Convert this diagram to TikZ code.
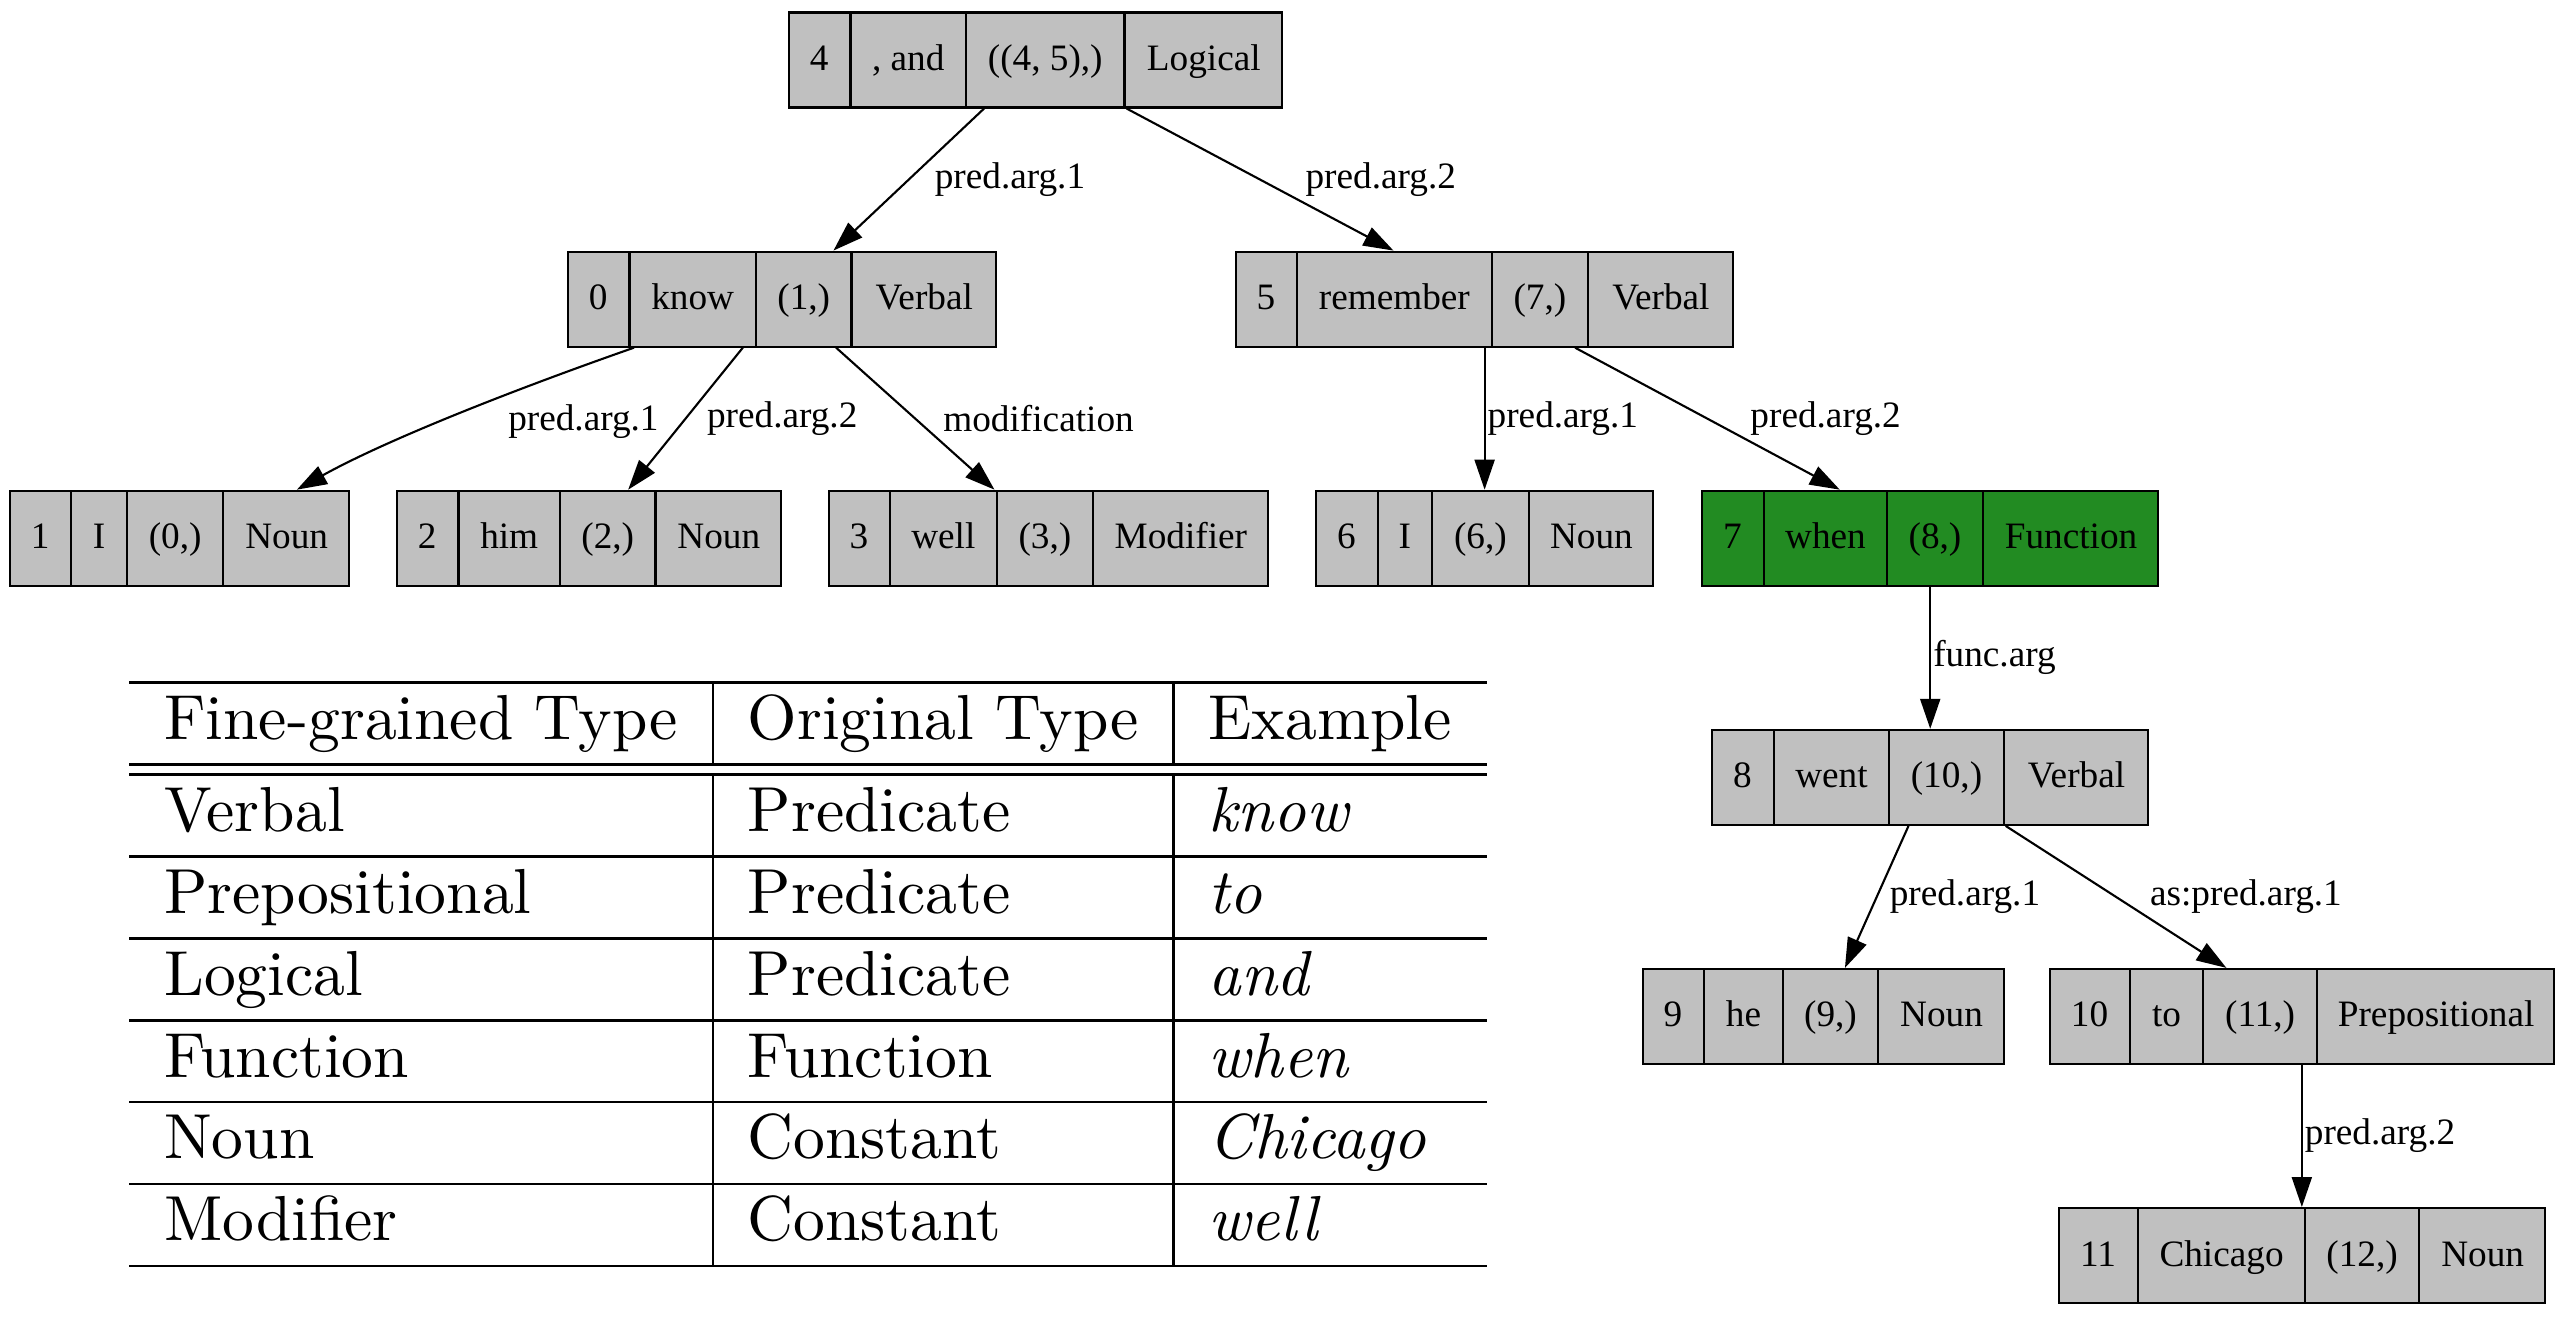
\documentclass[tikz,border=0pt]{standalone}
\usepackage{fontspec}
\newfontfamily\gvfont{Liberation Serif}
\usetikzlibrary{positioning,shapes.multipart,arrows.meta}
\definecolor{bg1}{RGB}{192,192,192}
\definecolor{bg2}{RGB}{34,139,34}
\newcommand{\cell}[2]{\makebox[\dimexpr#1cm-0.45pt\relax]{\rule[-0.37cm]{0pt}{0.95cm}#2}}

\begin{document}
\begin{tikzpicture}[
    font=\gvfont\fontsize{10.6}{12}\selectfont,
    rec/.style={
        rectangle split, rectangle split horizontal,
        rectangle split parts=4,
        draw, fill=bg1, line width=0.6pt,
        inner xsep=0pt, inner ysep=0pt
    },
    fn/.style={rec, fill=bg2},
    l/.style={
        line width=0.6pt,
        -{Triangle[length=0.3cm,width=0.2cm]}
    },
    lb/.style={anchor=west, inner sep=0pt}
]

\useasboundingbox (0,0) rectangle (25.66,-13.18);

\node [rec] (n4) at (10.355,-0.60)
    {\cell{0.62}{4}\nodepart{two}\cell{1.15}{, and}\nodepart{three}\cell{1.58}{((4, 5),)}\nodepart{four}\cell{1.58}{Logical}};
\node [rec,below=1.42cm of n4,xshift=-2.535cm] (n0)
    {\cell{0.62}{0}\nodepart{two}\cell{1.26}{know}\nodepart{three}\cell{0.95}{(1,)}\nodepart{four}\cell{1.45}{Verbal}};
\node [rec,right=2.38cm of n0] (n5)
    {\cell{0.61}{5}\nodepart{two}\cell{1.95}{remember}\nodepart{three}\cell{0.95}{(7,)}\nodepart{four}\cell{1.46}{Verbal}};

\node [rec,below left=1.42cm and 2.17cm of n0] (n1)
    {\cell{0.62}{1}\nodepart{two}\cell{0.55}{I}\nodepart{three}\cell{0.96}{(0,)}\nodepart{four}\cell{1.26}{Noun}};
\node [rec,right=0.46cm of n1] (n2)
    {\cell{0.62}{2}\nodepart{two}\cell{1.01}{him}\nodepart{three}\cell{0.95}{(2,)}\nodepart{four}\cell{1.26}{Noun}};
\node [rec,right=0.46cm of n2] (n3)
    {\cell{0.61}{3}\nodepart{two}\cell{1.07}{well}\nodepart{three}\cell{0.95}{(3,)}\nodepart{four}\cell{1.76}{Modifier}};
\node [rec,below=1.42cm of n5] (n6)
    {\cell{0.62}{6}\nodepart{two}\cell{0.54}{I}\nodepart{three}\cell{0.96}{(6,)}\nodepart{four}\cell{1.25}{Noun}};
\node [fn,right=0.47cm of n6] (n7)
    {\cell{0.62}{7}\nodepart{two}\cell{1.23}{when}\nodepart{three}\cell{0.95}{(8,)}\nodepart{four}\cell{1.76}{Function}};

\node [rec,below=1.42cm of n7] (n8)
    {\cell{0.62}{8}\nodepart{two}\cell{1.15}{went}\nodepart{three}\cell{1.14}{(10,)}\nodepart{four}\cell{1.45}{Verbal}};
\node [rec,below=1.42cm of n8,xshift=-1.07cm] (n9)
    {\cell{0.62}{9}\nodepart{two}\cell{0.78}{he}\nodepart{three}\cell{0.95}{(9,)}\nodepart{four}\cell{1.26}{Noun}};
\node [rec,right=0.44cm of n9] (n10)
    {\cell{0.81}{10}\nodepart{two}\cell{0.72}{to}\nodepart{three}\cell{1.14}{(11,)}\nodepart{four}\cell{2.37}{Prepositional}};
\node [rec,below=1.42cm of n10] (n11)
    {\cell{0.80}{11}\nodepart{two}\cell{1.66}{Chicago}\nodepart{three}\cell{1.14}{(12,)}\nodepart{four}\cell{1.26}{Noun}};

\draw [l] (n4) -- node [lb,xshift=0.25cm] {pred.arg.1} (n0);
\draw [l] (n4) -- node [lb,xshift=0.445cm] {pred.arg.2} (n5);
\draw [l] ([xshift=-1.48cm]n0.south) .. controls +(-1.2,-0.42) and +(0.9,0.5) ..
    node [lb,xshift=0.53cm,yshift=-0.055cm] {pred.arg.1} ([xshift=1.175cm]n1.north);
\draw [l] (n0) -- node [lb,xshift=0.205cm] {pred.arg.2} (n2);
\draw [l] (n0) -- node [lb,xshift=0.27cm] {modification} (n3);
\draw [l] (n5) -- node [lb,xshift=0.02cm] {pred.arg.1} (n6);
\draw [l] (n5) -- node [lb,xshift=0.42cm] {pred.arg.2} (n7);
\draw [l] (n7) -- node [lb,xshift=0.02cm] {func.arg} (n8);
\draw [l] (n8) -- node [lb,xshift=0.12cm] {pred.arg.1} (n9);
\draw [l] (n8) -- node [lb,xshift=0.33cm] {as:pred.arg.1} (n10);
\draw [l] (n10) -- node [lb,xshift=0.02cm] {pred.arg.2} (n11);

% table of types
\node [anchor=north west,inner sep=0pt,scale=1.81,transform shape,
       font=\rmfamily\fontsize{10}{12.47}\selectfont] (tbl) at (1.28,-6.80) {%
    \setlength{\tabcolsep}{5.5pt}%
    \setlength{\doublerulesep}{1.6pt}%
    \begin{tabular}{l|l|l}
    \hline
    Fine-grained Type & Original Type & Example \\
    \hline\hline
    Verbal & Predicate & \textit{know} \\
    \hline
    Prepositional & Predicate & \textit{to} \\
    \hline
    Logical & Predicate & \textit{and} \\
    \hline
    Function & Function & \textit{when} \\
    \hline
    Noun & Constant & \textit{Chicago} \\
    \hline
    Modifier & Constant & \textit{well} \\
    \hline
    \end{tabular}};

\end{tikzpicture}
\end{document}
